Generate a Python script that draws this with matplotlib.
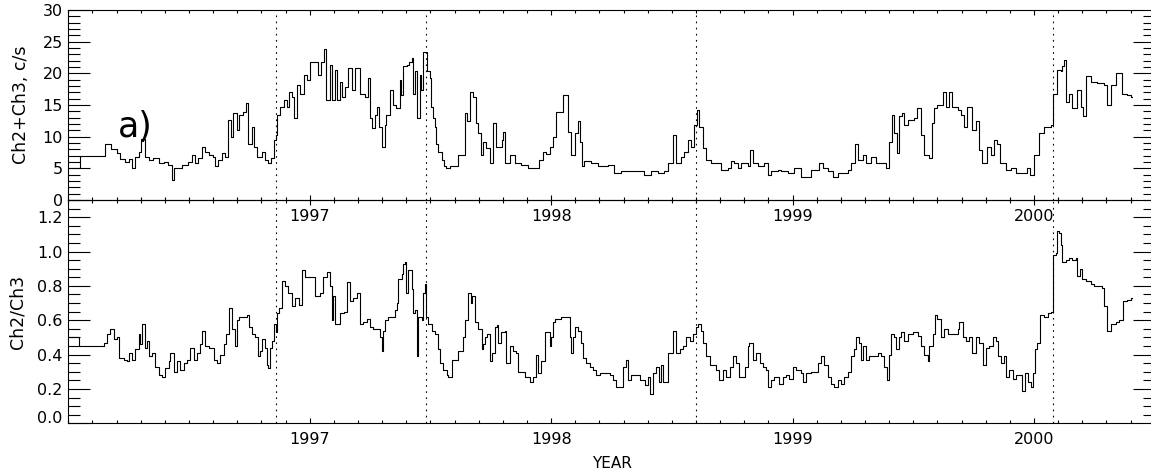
import matplotlib
matplotlib.use("Agg")
import matplotlib.pyplot as plt
from matplotlib.ticker import MultipleLocator, FixedLocator
import numpy as np

# --- data (decimal year, value), drawn as steps ---
t_sum = [1996.009, 1996.050, 1996.153, 1996.178, 1996.202, 1996.216, 1996.236, 1996.250,
         1996.264, 1996.278, 1996.291, 1996.302, 1996.316, 1996.333, 1996.353, 1996.374,
         1996.395, 1996.415, 1996.429, 1996.440, 1996.470, 1996.498, 1996.512, 1996.525,
         1996.539, 1996.553, 1996.567, 1996.581, 1996.601, 1996.608, 1996.622, 1996.636,
         1996.650, 1996.663, 1996.674, 1996.684, 1996.698, 1996.708, 1996.722, 1996.735,
         1996.746, 1996.760, 1996.770, 1996.781, 1996.801, 1996.815, 1996.826, 1996.840,
         1996.851, 1996.860, 1996.865, 1996.879, 1996.893, 1996.907, 1996.915, 1996.926,
         1996.934, 1996.948, 1996.961, 1996.975, 1996.989, 1997.003, 1997.033, 1997.047,
         1997.058, 1997.069, 1997.083, 1997.091, 1997.105, 1997.113, 1997.124, 1997.132,
         1997.146, 1997.160, 1997.174, 1997.187, 1997.208, 1997.228, 1997.242, 1997.251,
         1997.259, 1997.270, 1997.278, 1997.287, 1997.298, 1997.311, 1997.318, 1997.332,
         1997.346, 1997.359, 1997.373, 1997.380, 1997.387, 1997.401, 1997.411, 1997.422,
         1997.429, 1997.435, 1997.446, 1997.456, 1997.463, 1997.470, 1997.484, 1997.497,
         1997.504, 1997.511, 1997.518, 1997.525, 1997.532, 1997.546, 1997.555, 1997.566,
         1997.580, 1997.615, 1997.642, 1997.653, 1997.663, 1997.677, 1997.688, 1997.697,
         1997.711, 1997.716, 1997.732, 1997.745, 1997.759, 1997.773, 1997.796, 1997.801,
         1997.810, 1997.828, 1997.849, 1997.876, 1997.904, 1997.948, 1997.966, 1997.980,
         1997.994, 1998.008, 1998.021, 1998.049, 1998.070, 1998.081, 1998.097, 1998.111,
         1998.120, 1998.127, 1998.138, 1998.165, 1998.193, 1998.235, 1998.262, 1998.290,
         1998.386, 1998.414, 1998.442, 1998.469, 1998.483, 1998.504, 1998.518, 1998.538,
         1998.552, 1998.566, 1998.580, 1998.593, 1998.604, 1998.614, 1998.628, 1998.642,
         1998.663, 1998.704, 1998.732, 1998.745, 1998.759, 1998.773, 1998.787, 1998.814,
         1998.825, 1998.835, 1998.856, 1998.883, 1998.897, 1998.911, 1998.938, 1998.952,
         1998.979, 1999.007, 1999.035, 1999.076, 1999.111, 1999.124, 1999.145, 1999.166,
         1999.187, 1999.228, 1999.242, 1999.260, 1999.272, 1999.290, 1999.304, 1999.324,
         1999.345, 1999.386, 1999.400, 1999.410, 1999.421, 1999.432, 1999.441, 1999.455,
         1999.462, 1999.476, 1999.503, 1999.517, 1999.531, 1999.545, 1999.566, 1999.579,
         1999.586, 1999.600, 1999.621, 1999.634, 1999.648, 1999.662, 1999.683, 1999.697,
         1999.710, 1999.724, 1999.741, 1999.759, 1999.772, 1999.786, 1999.807, 1999.821,
         1999.834, 1999.848, 1999.859, 1999.882, 1999.903, 1999.924, 1999.972, 1999.983,
         2000.000, 2000.020, 2000.041, 2000.069, 2000.080, 2000.096, 2000.110, 2000.117,
         2000.124, 2000.131, 2000.144, 2000.158, 2000.176, 2000.193, 2000.202, 2000.216,
         2000.234, 2000.262, 2000.290, 2000.303, 2000.317, 2000.338, 2000.365, 2000.386,
         2000.400, 2000.416]
v_sum = [5.0, 7.0, 8.8, 8.0, 7.4, 6.4, 6.0, 6.4,
         5.0, 6.8, 7.6, 9.6, 6.8, 6.3, 6.7, 5.8,
         6.0, 5.5, 3.2, 5.0, 5.5, 6.0, 7.1, 5.8,
         6.6, 8.4, 7.6, 7.1, 6.8, 5.3, 6.3, 7.4,
         6.8, 12.6, 10.0, 13.7, 11.0, 13.4, 13.9, 15.3,
         8.9, 11.6, 8.4, 6.8, 7.6, 6.3, 5.8, 6.6,
         9.5, 10.2, 13.4, 14.7, 15.8, 14.7, 17.1, 16.3,
         12.9, 18.2, 16.8, 19.7, 18.9, 21.8, 19.7, 21.8,
         23.9, 15.8, 21.3, 15.8, 20.5, 15.8, 18.7, 16.3,
         17.9, 20.8, 17.4, 20.8, 16.8, 16.3, 19.2, 12.9,
         11.3, 13.4, 14.7, 11.6, 8.4, 11.8, 13.4, 17.4,
         15.0, 14.5, 18.9, 16.6, 21.1, 21.3, 21.8, 22.4,
         16.8, 20.3, 12.9, 19.7, 17.4, 23.4, 20.3, 19.2,
         14.7, 12.9, 11.6, 8.9, 7.6, 6.3, 5.3, 5.0,
         5.3, 7.1, 13.7, 12.4, 17.1, 16.3, 12.1, 10.5,
         7.1, 9.2, 8.2, 5.8, 12.1, 8.4, 9.4, 10.8,
         5.8, 7.1, 5.8, 5.5, 5.0, 6.3, 7.6, 7.2,
         8.4, 10.0, 13.9, 16.6, 10.8, 7.1, 10.5, 12.4,
         9.2, 5.3, 6.1, 5.8, 5.3, 5.5, 4.2, 4.5,
         3.9, 4.5, 4.2, 4.5, 5.8, 10.3, 5.8, 6.8,
         7.6, 9.5, 8.4, 11.8, 14.2, 11.6, 8.2, 6.3,
         5.8, 4.7, 5.0, 6.1, 5.8, 5.0, 5.8, 5.3,
         7.9, 5.8, 5.3, 5.8, 3.9, 4.5, 4.7, 4.5,
         4.2, 5.0, 3.7, 4.7, 5.8, 5.0, 4.5, 3.7,
         4.2, 4.7, 5.8, 8.9, 6.3, 7.1, 5.8, 6.8,
         5.8, 5.0, 9.2, 13.4, 10.5, 7.4, 13.2, 13.7,
         11.8, 12.6, 12.9, 14.5, 10.3, 7.1, 6.6, 12.1,
         14.5, 15.0, 17.1, 14.7, 17.1, 14.7, 14.2, 13.4,
         11.6, 14.7, 11.1, 12.4, 7.9, 5.8, 8.4, 7.1,
         9.5, 8.9, 5.8, 4.7, 5.0, 4.2, 5.0, 3.9,
         7.1, 10.5, 11.6, 11.8, 16.8, 20.5, 20.3, 21.1,
         22.1, 15.5, 16.8, 14.5, 17.4, 14.7, 13.2, 19.5,
         18.7, 18.4, 18.2, 15.0, 18.2, 20.0, 16.8, 16.6,
         16.3, 16.1]

t_ratio = [1996.009, 1996.046, 1996.147, 1996.161, 1996.174, 1996.188, 1996.202, 1996.212,
           1996.230, 1996.243, 1996.250, 1996.264, 1996.278, 1996.292, 1996.298, 1996.305,
           1996.316, 1996.326, 1996.333, 1996.347, 1996.361, 1996.374, 1996.388, 1996.402,
           1996.416, 1996.423, 1996.436, 1996.450, 1996.464, 1996.478, 1996.492, 1996.505,
           1996.519, 1996.533, 1996.547, 1996.554, 1996.567, 1996.581, 1996.602, 1996.616,
           1996.629, 1996.643, 1996.653, 1996.664, 1996.678, 1996.691, 1996.698, 1996.708,
           1996.726, 1996.740, 1996.747, 1996.760, 1996.774, 1996.784, 1996.795, 1996.802,
           1996.815, 1996.822, 1996.829, 1996.836, 1996.843, 1996.854, 1996.860, 1996.864,
           1996.871, 1996.884, 1996.898, 1996.912, 1996.926, 1996.940, 1996.957, 1996.967,
           1996.981, 1997.009, 1997.022, 1997.043, 1997.057, 1997.071, 1997.084, 1997.091,
           1997.098, 1997.105, 1997.126, 1997.140, 1997.153, 1997.167, 1997.181, 1997.195,
           1997.208, 1997.222, 1997.236, 1997.250, 1997.264, 1997.291, 1997.298, 1997.305,
           1997.312, 1997.326, 1997.353, 1997.360, 1997.367, 1997.381, 1997.388, 1997.395,
           1997.397, 1997.408, 1997.422, 1997.429, 1997.436, 1997.443, 1997.450, 1997.464,
           1997.471, 1997.477, 1997.481, 1997.491, 1997.505, 1997.519, 1997.532, 1997.539,
           1997.553, 1997.567, 1997.574, 1997.588, 1997.615, 1997.636, 1997.643, 1997.657,
           1997.668, 1997.673, 1997.684, 1997.698, 1997.712, 1997.719, 1997.726, 1997.736,
           1997.746, 1997.753, 1997.767, 1997.774, 1997.781, 1997.794, 1997.808, 1997.815,
           1997.829, 1997.843, 1997.856, 1997.863, 1997.891, 1997.911, 1997.925, 1997.939,
           1997.946, 1997.960, 1997.974, 1997.994, 1998.001, 1998.008, 1998.015, 1998.042,
           1998.077, 1998.084, 1998.091, 1998.100, 1998.111, 1998.125, 1998.132, 1998.146,
           1998.160, 1998.173, 1998.187, 1998.201, 1998.242, 1998.256, 1998.270, 1998.298,
           1998.311, 1998.318, 1998.332, 1998.366, 1998.387, 1998.401, 1998.408, 1998.422,
           1998.435, 1998.445, 1998.456, 1998.463, 1998.484, 1998.504, 1998.518, 1998.532,
           1998.546, 1998.560, 1998.573, 1998.587, 1998.601, 1998.610, 1998.621, 1998.628,
           1998.642, 1998.656, 1998.683, 1998.697, 1998.711, 1998.725, 1998.739, 1998.752,
           1998.766, 1998.780, 1998.801, 1998.815, 1998.821, 1998.835, 1998.849, 1998.863,
           1998.877, 1998.890, 1998.897, 1998.911, 1998.925, 1998.945, 1998.959, 1998.973,
           1998.987, 1999.000, 1999.014, 1999.035, 1999.042, 1999.056, 1999.076, 1999.104,
           1999.118, 1999.132, 1999.146, 1999.159, 1999.173, 1999.187, 1999.201, 1999.214,
           1999.228, 1999.242, 1999.256, 1999.263, 1999.276, 1999.283, 1999.290, 1999.304,
           1999.318, 1999.352, 1999.366, 1999.380, 1999.391, 1999.401, 1999.407, 1999.421,
           1999.428, 1999.442, 1999.449, 1999.463, 1999.476, 1999.497, 1999.518, 1999.532,
           1999.545, 1999.559, 1999.566, 1999.580, 1999.589, 1999.600, 1999.614, 1999.628,
           1999.642, 1999.683, 1999.690, 1999.704, 1999.718, 1999.731, 1999.745, 1999.759,
           1999.773, 1999.787, 1999.800, 1999.814, 1999.828, 1999.842, 1999.851, 1999.862,
           1999.876, 1999.883, 1999.897, 1999.911, 1999.924, 1999.952, 1999.963, 1999.973,
           1999.986, 1999.997, 2000.003, 2000.014, 2000.025, 2000.042, 2000.058, 2000.069,
           2000.077, 2000.090, 2000.097, 2000.104, 2000.111, 2000.117, 2000.131, 2000.145,
           2000.159, 2000.172, 2000.179, 2000.189, 2000.200, 2000.214, 2000.234, 2000.248,
           2000.283, 2000.290, 2000.303, 2000.317, 2000.338, 2000.352, 2000.369, 2000.386,
           2000.403, 2000.411, 2000.416]
v_ratio = [0.50, 0.45, 0.47, 0.52, 0.55, 0.49, 0.50, 0.38,
           0.37, 0.36, 0.41, 0.37, 0.43, 0.52, 0.46, 0.58,
           0.44, 0.48, 0.39, 0.41, 0.33, 0.28, 0.27, 0.32,
           0.36, 0.41, 0.30, 0.36, 0.31, 0.35, 0.37, 0.44,
           0.37, 0.41, 0.46, 0.54, 0.45, 0.44, 0.37, 0.35,
           0.40, 0.46, 0.52, 0.67, 0.55, 0.45, 0.60, 0.62,
           0.62, 0.63, 0.56, 0.52, 0.50, 0.39, 0.42, 0.49,
           0.44, 0.34, 0.32, 0.44, 0.48, 0.58, 0.53, 0.64,
           0.67, 0.83, 0.80, 0.76, 0.68, 0.73, 0.69, 0.89,
           0.85, 0.85, 0.74, 0.76, 0.85, 0.88, 0.80, 0.60,
           0.74, 0.58, 0.64, 0.65, 0.82, 0.71, 0.73, 0.76,
           0.58, 0.59, 0.61, 0.56, 0.55, 0.50, 0.42, 0.54,
           0.60, 0.62, 0.66, 0.70, 0.84, 0.87, 0.93, 0.94,
           0.76, 0.89, 0.78, 0.64, 0.66, 0.39, 0.62, 0.60,
           0.76, 0.81, 0.62, 0.58, 0.54, 0.52, 0.43, 0.35,
           0.31, 0.28, 0.27, 0.37, 0.42, 0.50, 0.60, 0.76,
           0.70, 0.74, 0.59, 0.55, 0.43, 0.46, 0.50, 0.52,
           0.36, 0.41, 0.56, 0.57, 0.47, 0.53, 0.54, 0.35,
           0.45, 0.42, 0.41, 0.30, 0.27, 0.24, 0.27, 0.40,
           0.29, 0.36, 0.53, 0.45, 0.50, 0.59, 0.61, 0.62,
           0.50, 0.41, 0.50, 0.56, 0.54, 0.47, 0.38, 0.35,
           0.33, 0.31, 0.28, 0.29, 0.28, 0.25, 0.21, 0.33,
           0.37, 0.25, 0.28, 0.25, 0.22, 0.27, 0.17, 0.29,
           0.33, 0.24, 0.34, 0.24, 0.41, 0.54, 0.41, 0.43,
           0.45, 0.50, 0.48, 0.52, 0.56, 0.58, 0.54, 0.47,
           0.39, 0.34, 0.31, 0.25, 0.31, 0.27, 0.33, 0.39,
           0.35, 0.27, 0.33, 0.45, 0.47, 0.37, 0.41, 0.35,
           0.33, 0.31, 0.21, 0.25, 0.27, 0.23, 0.27, 0.28,
           0.26, 0.33, 0.31, 0.29, 0.24, 0.29, 0.30, 0.35,
           0.39, 0.34, 0.27, 0.23, 0.21, 0.25, 0.23, 0.27,
           0.30, 0.39, 0.43, 0.50, 0.47, 0.37, 0.45, 0.37,
           0.39, 0.41, 0.39, 0.33, 0.25, 0.40, 0.52, 0.50,
           0.43, 0.50, 0.53, 0.48, 0.52, 0.53, 0.51, 0.45,
           0.40, 0.36, 0.45, 0.52, 0.63, 0.61, 0.50, 0.55,
           0.52, 0.55, 0.59, 0.50, 0.48, 0.50, 0.41, 0.50,
           0.47, 0.34, 0.44, 0.45, 0.50, 0.48, 0.39, 0.35,
           0.39, 0.27, 0.31, 0.26, 0.28, 0.19, 0.29, 0.24,
           0.21, 0.29, 0.43, 0.47, 0.63, 0.62, 0.64, 0.65,
           0.98, 0.99, 1.12, 1.11, 1.04, 0.94, 0.95, 0.96,
           0.95, 0.96, 0.86, 0.90, 0.84, 0.83, 0.81, 0.80,
           0.79, 0.68, 0.54, 0.58, 0.59, 0.60, 0.71, 0.72,
           0.73, 0.69, 0.68]

event_years = [1996.86, 1997.48, 1998.60, 2000.08]
year_ticks = [1997, 1998, 1999, 2000]
year_labels = ["1997", "1998", "1999", "2000"]

plt.rcParams['font.family'] = ['DejaVu Sans']
plt.rcParams['axes.linewidth'] = 0.8

fig = plt.figure(figsize=(11.51, 4.72), dpi=100)
ax1 = fig.add_axes([0.0593, 0.5763, 0.9251, 0.4025])
ax2 = fig.add_axes([0.0593, 0.1032, 0.9251, 0.4731])
# the top panel's year labels sit inside the lower panel, so keep it see-through
ax2.set_facecolor("none")

ax1.step(t_sum, v_sum, where="post", color="black", lw=0.8)
ax2.step(t_ratio, v_ratio, where="post", color="black", lw=0.8)

for ax in (ax1, ax2):
    ax.set_xlim(1996.0, 2000.41)
    for yr in event_years:
        ax.axvline(yr, color="black", lw=0.8, dashes=(1.5, 4))
    ax.xaxis.set_major_locator(FixedLocator(year_ticks))
    ax.set_xticklabels(year_labels)
    ax.xaxis.set_minor_locator(MultipleLocator(0.1))
    ax.tick_params(axis="x", which="major", direction="in", top=True, bottom=True,
                   length=3.6, width=0.8, labelsize=11.5, pad=6.5)
    ax.tick_params(axis="x", which="minor", direction="in", top=True, bottom=True,
                   length=2.0, width=0.8)
    ax.tick_params(axis="y", which="major", direction="in", left=True, right=True,
                   length=15.8, width=0.8, labelsize=11.5, pad=4)
    ax.tick_params(axis="y", which="minor", direction="in", left=True, right=True,
                   length=8.5, width=0.8)
    ax.spines["right"].set_position(("outward", 15.8))
    ax.spines["right"].set_color("none")

ax1.set_ylim(0, 30)
ax1.yaxis.set_major_locator(MultipleLocator(5))
ax1.yaxis.set_minor_locator(MultipleLocator(1))
ax1.set_ylabel("Ch2+Ch3, c/s", fontsize=12.5)
ax1.yaxis.set_label_coords(-0.036, 0.5)

ax2.set_ylim(0, 1.3)
ax2.yaxis.set_major_locator(FixedLocator([0.0, 0.2, 0.4, 0.6, 0.8, 1.0, 1.2]))
ax2.yaxis.set_minor_locator(MultipleLocator(0.05))
ax2.set_yticklabels(["0.0", "0.2", "0.4", "0.6", "0.8", "1.0", "1.2"])
ax2.set_ylabel("Ch2/Ch3", fontsize=12.5)
ax2.yaxis.set_label_coords(-0.039, 0.5)
ax2.set_xlabel("YEAR", fontsize=11)
ax2.xaxis.set_label_coords(0.5103, -0.148)

# keep end labels inside the frame, like the original
fig.canvas.draw()
ylabs1 = ax1.get_yticklabels()
ylabs1[0].set_verticalalignment("baseline")
ylabs1[-1].set_verticalalignment("top")
ylabs2 = ax2.get_yticklabels()
ylabs2[0].set_verticalalignment("baseline")

ax1.text(1996.277, 11.5, "a)", fontsize=25, ha="center", va="center")

fig.savefig("out.png", dpi=100)
